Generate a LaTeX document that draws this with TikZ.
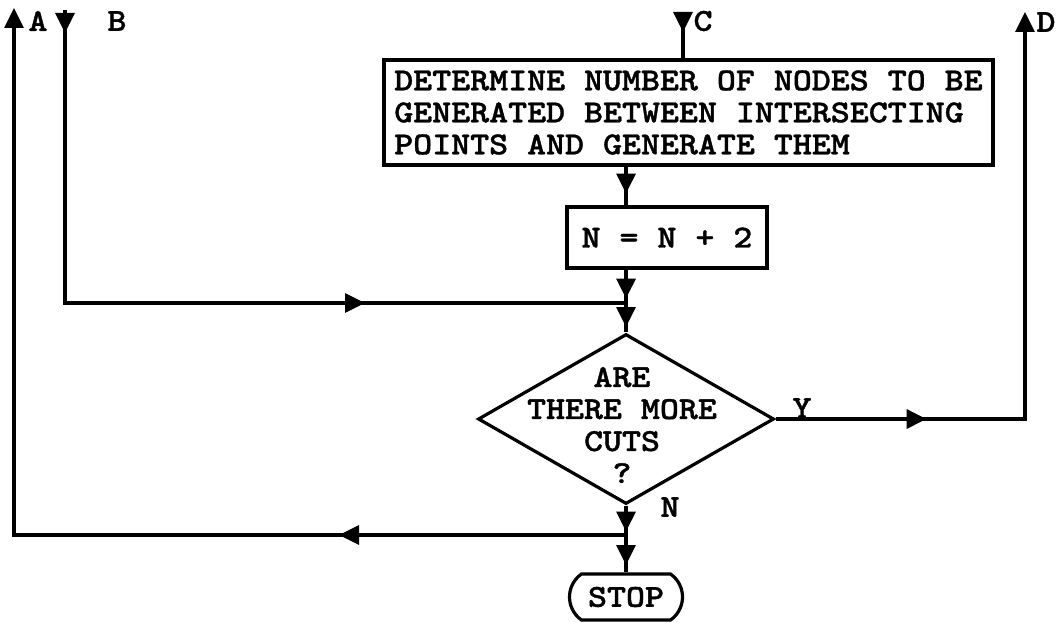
\documentclass[tikz,border=0pt]{standalone}
\usepackage{fontspec}
\newfontfamily\twf{lmmonolt10-bold.otf}[FakeStretch=1.13, FakeBold=1.1]
\usetikzlibrary{arrows.meta,decorations.markings,shapes.geometric,shapes.misc}
\newcommand\tw[1]{#1}
\tikzset{
  tri/.tip={Triangle[width=19pt,length=20pt]},
  txt/.style={font=\fontsize{32}{32}\selectfont\twf, inner sep=0pt},
  box/.style={draw, txt, rectangle},
  ma/.style={postaction={decorate,decoration={markings,mark=at position #1 with {\arrow{tri}}}}},
  mb/.style 2 args={postaction={decorate,decoration={markings,mark=at position #1 with {\arrow{tri}},mark=at position #2 with {\arrow{tri}}}}},
}
\begin{document}
\begin{tikzpicture}[x=1pt,y=-1pt,line width=3.2pt]
\useasboundingbox (0,0) rectangle (1057,623);
% nodes
\node[box, minimum width=609pt, minimum height=105pt, align=left] (det) at (688.5,112.5)
  {\tw{DETERMINE NUMBER OF NODES TO BE}\\\tw{GENERATED BETWEEN INTERSECTING}\\\tw{POINTS AND GENERATE THEM}};
\node[box, minimum width=200pt, minimum height=61pt] (inc) at (667,237.5) {\tw{N = N + 2}};
\node[draw, diamond, minimum width=296pt, minimum height=170pt, inner sep=0pt] (dec) at (626,419) {};
\node[txt, align=center] (dectext) at (622,425) {\tw{ARE}\\\tw{THERE MORE}\\\tw{CUTS}\\\tw{?}};
\node[draw, rounded rectangle, rounded rectangle arc length=110, minimum width=113pt, minimum height=46pt, txt] (stop) at (626,597) {\tw{STOP}};
% coordinates
\coordinate (sp) at (626,0);
\coordinate (j1) at (626,303);
\coordinate (j2) at (626,535);
\coordinate (aT) at (14,8);
\coordinate (bT) at (65,10);
\coordinate (cT) at (683,12);
\coordinate (dT) at (1025,12);
% labels
\node[txt] (la) at (38,21) {\tw{A}};
\node[txt] (lb) at (117,21) {\tw{B}};
\node[txt] (lc) at (703,21) {\tw{C}};
\node[txt] (ld) at (1046,22) {\tw{D}};
\node[txt] (ly) at (802,408) {\tw{Y}};
\node[txt] (ln) at (670,507) {\tw{N}};
% connectors
\draw[ma=20pt] (cT) -- (cT |- det.north);
\draw[ma=27pt] (det.south -| sp) -- (inc.north -| sp);
\draw[ma=29pt] (inc.south -| sp) -- (j1);
\draw[ma=24pt] (j1) -- (dec.north);
\draw[mb={23pt}{593pt}] (bT) -- (bT |- j1) -- (j1);
\draw[ma=151pt, arrows={-tri}] (dec.east) -- (dec.east -| dT) -- (dT);
\draw[ma=26pt] (dec.south) -- (j2);
\draw[ma=30pt] (j2) -- (stop.north);
\draw[ma=287pt, arrows={-tri}] (j2) -- (j2 -| aT) -- (aT);
\end{tikzpicture}
\end{document}
